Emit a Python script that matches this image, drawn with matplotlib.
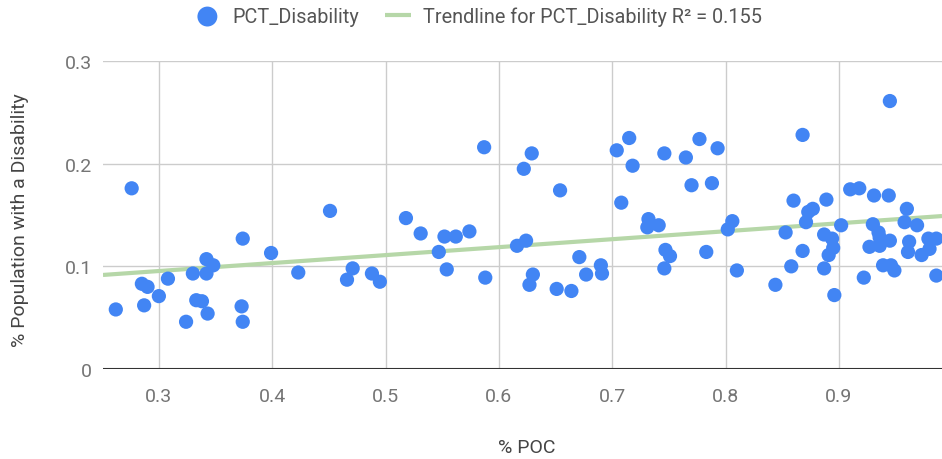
import numpy as np
import matplotlib
matplotlib.use('Agg')
import matplotlib.pyplot as plt

plt.rcParams['font.family'] = ['Roboto', 'DejaVu Sans']

# % POC (x) and % population with a disability (y)
pct_poc = [
    0.262, 0.276, 0.285, 0.290, 0.287, 0.300, 0.308, 0.324, 0.330, 0.333,
    0.338, 0.343, 0.342, 0.342, 0.348, 0.374, 0.373, 0.374, 0.399, 0.423,
    0.451, 0.471, 0.466, 0.488, 0.495, 0.518, 0.531, 0.547, 0.552, 0.562,
    0.574, 0.554, 0.587, 0.588, 0.629, 0.622, 0.616, 0.624, 0.630, 0.627,
    0.654, 0.651, 0.664, 0.671, 0.677, 0.690, 0.691, 0.704, 0.715, 0.718,
    0.708, 0.732, 0.731, 0.741, 0.746, 0.765, 0.777, 0.793, 0.770, 0.788,
    0.747, 0.751, 0.746, 0.783, 0.806, 0.802, 0.810, 0.868, 0.844, 0.853,
    0.858, 0.860, 0.868, 0.871, 0.873, 0.877, 0.889, 0.887, 0.894, 0.895,
    0.891, 0.887, 0.896, 0.902, 0.910, 0.918, 0.931, 0.944, 0.945, 0.922,
    0.930, 0.935, 0.936, 0.927, 0.936, 0.945, 0.939, 0.946, 0.949, 0.960,
    0.958, 0.969, 0.962, 0.961, 0.973, 0.979, 0.986, 0.980, 0.986,
]
pct_disability = [
    0.058, 0.176, 0.083, 0.080, 0.062, 0.071, 0.088, 0.046, 0.093, 0.067,
    0.066, 0.054, 0.107, 0.093, 0.101, 0.127, 0.061, 0.046, 0.113, 0.094,
    0.154, 0.098, 0.087, 0.093, 0.085, 0.147, 0.132, 0.114, 0.129, 0.129,
    0.134, 0.097, 0.216, 0.089, 0.210, 0.195, 0.120, 0.125, 0.092, 0.082,
    0.174, 0.078, 0.076, 0.109, 0.092, 0.101, 0.093, 0.213, 0.225, 0.198,
    0.162, 0.146, 0.138, 0.140, 0.210, 0.206, 0.224, 0.215, 0.179, 0.181,
    0.116, 0.110, 0.098, 0.114, 0.144, 0.136, 0.096, 0.228, 0.082, 0.133,
    0.100, 0.164, 0.115, 0.143, 0.153, 0.156, 0.165, 0.131, 0.127, 0.118,
    0.111, 0.098, 0.072, 0.140, 0.175, 0.176, 0.169, 0.169, 0.261, 0.089,
    0.141, 0.133, 0.128, 0.119, 0.120, 0.125, 0.101, 0.101, 0.096, 0.156,
    0.143, 0.140, 0.124, 0.114, 0.111, 0.127, 0.127, 0.117, 0.091,
]

x_ticks = [0.3, 0.4, 0.5, 0.6, 0.7, 0.8, 0.9]
y_ticks = [0, 0.1, 0.2, 0.3]
y_tick_labels = ['0', '0.1', '0.2', '0.3']

x = np.array(pct_poc)
y = np.array(pct_disability)

# linear trendline
slope, intercept = np.polyfit(x, y, 1)

fig = plt.figure(figsize=(9.42, 4.60), dpi=100)
ax = fig.add_axes([103 / 942, 90 / 460, 839 / 942, 308 / 460])

xlim = (0.2507, 0.991)
xs = np.array(xlim)
ax.plot(xs, slope * xs + intercept, color='#b6d7a8', linewidth=3, zorder=2,
        solid_capstyle='butt', label='Trendline for PCT_Disability R\u00b2 = 0.155')
ax.scatter(x, y, s=105, color='#4285f4', edgecolors='none', zorder=3,
           label='PCT_Disability')

ax.set_xlim(*xlim)
ax.set_ylim(0, 0.3)
ax.set_xticks(x_ticks)
ax.set_xticklabels([f'{t:.1f}' for t in x_ticks])
ax.set_yticks(y_ticks)
ax.set_yticklabels(y_tick_labels)
ax.grid(True, color='#cccccc', linewidth=1)
ax.set_axisbelow(True)
ax.axhline(0, color='#333333', linewidth=1.5, zorder=1)

for s in ax.spines.values():
    s.set_visible(False)
ax.tick_params(length=0, labelsize=14, labelcolor='#757575')
ax.tick_params(axis='x', pad=13)
ax.tick_params(axis='y', pad=8)

fig.text(527 / 942, 1 - 448 / 460, '% POC', ha='center', va='center',
         fontsize=14, color='#444444')
fig.text(20 / 942, 1 - 220 / 460, '% Population with a Disability',
         ha='center', va='center', rotation=90, fontsize=14, color='#444444')

handles, labels = ax.get_legend_handles_labels()
leg = fig.legend(handles[::-1], labels[::-1], loc='center',
                 bbox_to_anchor=(478 / 942, 1 - 17 / 460), ncol=2,
                 frameon=False, fontsize=14.3, handlelength=1.3, markerscale=1.4,
                 handletextpad=0.6, columnspacing=1.3, borderpad=0)
for t in leg.get_texts():
    t.set_color('#555555')

fig.savefig('out.png', dpi=100)
